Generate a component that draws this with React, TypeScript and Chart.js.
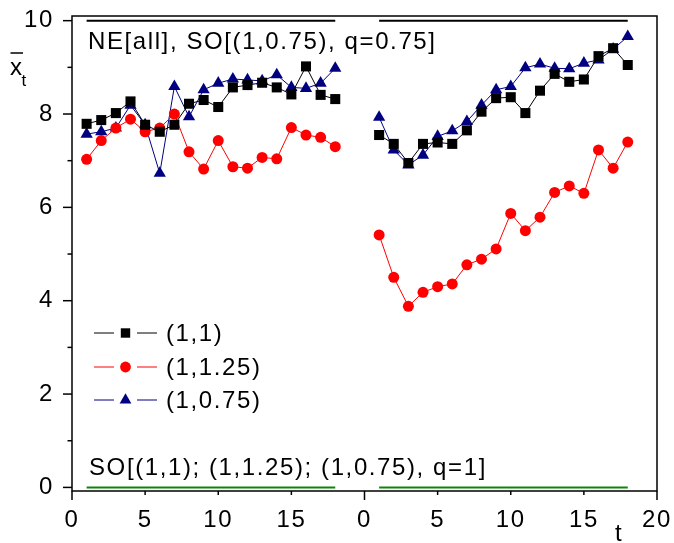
import { useEffect, useRef } from 'react';
import { Chart, registerables } from 'chart.js';

Chart.register(...registerables);

// ---- data ----
const tValues = [1, 2, 3, 4, 5, 6, 7, 8, 9, 10, 11, 12, 13, 14, 15, 16, 17, 18];
const rightPanelOffset = 20;

const blackLeft = [7.79, 7.87, 8.02, 8.27, 7.77, 7.62, 7.77, 8.22, 8.30, 8.15, 8.57, 8.62, 8.67, 8.57, 8.42, 9.02, 8.41, 8.32];
const redLeft = [7.03, 7.43, 7.70, 7.89, 7.62, 7.70, 8.00, 7.19, 6.82, 7.43, 6.87, 6.84, 7.07, 7.04, 7.71, 7.55, 7.50, 7.30];
const blueLeft = [7.57, 7.62, 7.70, 8.19, 7.77, 6.73, 8.59, 7.94, 8.52, 8.66, 8.75, 8.73, 8.71, 8.84, 8.57, 8.55, 8.66, 8.98];

const blackRight = [7.55, 7.36, 6.95, 7.36, 7.39, 7.36, 7.65, 8.05, 8.34, 8.36, 8.02, 8.50, 8.86, 8.69, 8.74, 9.24, 9.41, 9.05];
const redRight = [5.41, 4.50, 3.88, 4.18, 4.30, 4.36, 4.77, 4.89, 5.11, 5.87, 5.50, 5.79, 6.32, 6.46, 6.30, 7.23, 6.84, 7.40];
const blueRight = [7.93, 7.23, 6.91, 7.12, 7.52, 7.64, 7.84, 8.19, 8.52, 8.59, 8.99, 9.07, 8.98, 8.97, 9.09, 9.16, 9.39, 9.66];

const neLine = [10, 10, 10, 10, 10, 10, 10, 10, 10, 10, 10, 10, 10, 10, 10, 10, 10, 10];
const soLine = [0, 0, 0, 0, 0, 0, 0, 0, 0, 0, 0, 0, 0, 0, 0, 0, 0, 0];

const xTickValues = [0, 5, 10, 15, 20, 25, 30, 35, 40];
const xTickLabels = ['0', '5', '10', '15', '0', '5', '10', '15', '20'];
const yTickValues = [0, 1, 2, 3, 4, 5, 6, 7, 8, 9, 10];
const yTickLabels = ['0', '', '2', '', '4', '', '6', '', '8', '', '10'];

const legendLabels = ['(1,1)', '(1,1.25)', '(1,0.75)'];
const topNote = 'NE[all], SO[(1,0.75), q=0.75]';
const bottomNote = 'SO[(1,1); (1,1.25); (1,0.75), q=1]';
const xAxisTitle = 't';

// ---- styles ----
const FONT = '"Liberation Sans", Arial, sans-serif';
const SPACING = '1.6px';
const BLACK = '#000000';
const RED = '#ff0000';
const NAVY = '#000080';
const GREEN = '#0a870a';

function pts(values: number[], offset: number) {
  return tValues.map((t, i) => ({ x: t + offset, y: values[i] }));
}

function series(values: number[], offset: number, color: string, style: string, radius: number) {
  return {
    data: pts(values, offset),
    borderColor: color,
    backgroundColor: color,
    borderWidth: 1,
    pointStyle: style,
    pointRadius: radius,
    pointBorderWidth: 0,
    pointBackgroundColor: color,
    pointHoverRadius: radius,
  };
}

function flat(values: number[], offset: number, color: string) {
  return {
    data: pts(values, offset),
    borderColor: color,
    backgroundColor: color,
    borderWidth: 2,
    pointRadius: 0,
    pointHoverRadius: 0,
  };
}

function drawMarker(ctx: CanvasRenderingContext2D, kind: string, cx: number, cy: number, color: string) {
  ctx.fillStyle = color;
  ctx.beginPath();
  if (kind === 'rect') {
    ctx.rect(cx - 4.7, cy - 4.7, 9.4, 9.4);
  } else if (kind === 'circle') {
    ctx.arc(cx, cy, 5.4, 0, Math.PI * 2);
  } else {
    const r = 6.8;
    ctx.moveTo(cx, cy - r);
    ctx.lineTo(cx + r * 0.866, cy + r / 2);
    ctx.lineTo(cx - r * 0.866, cy + r / 2);
    ctx.closePath();
  }
  ctx.fill();
}

const decor = {
  id: 'decor',
  beforeLayout(chart: any) {
    chart.ctx.letterSpacing = SPACING;
  },
  beforeDraw(chart: any) {
    chart.ctx.letterSpacing = SPACING;
  },
  afterDraw(chart: any) {
    const ctx: CanvasRenderingContext2D = chart.ctx;
    const { left, right, top, bottom } = chart.chartArea;
    const xs = chart.scales.x;
    const ys = chart.scales.y;
    ctx.save();
    (ctx as any).letterSpacing = SPACING;
    ctx.strokeStyle = BLACK;
    ctx.lineWidth = 1.5;
    ctx.strokeRect(left, top, right - left, bottom - top);

    const seg = (x1: number, y1: number, x2: number, y2: number) => {
      ctx.beginPath();
      ctx.moveTo(x1, y1);
      ctx.lineTo(x2, y2);
      ctx.stroke();
    };
    yTickValues.forEach((v, i) => {
      const py = ys.getPixelForValue(v);
      const len = yTickLabels[i] ? 9 : 4.5;
      seg(left - len, py, left, py);
    });
    xTickValues.forEach((v) => {
      const px = xs.getPixelForValue(v);
      const len = v % 20 === 0 ? 9 : 4;
      seg(px, bottom, px, bottom + len);
    });

    ctx.fillStyle = BLACK;
    ctx.textBaseline = 'alphabetic';
    ctx.textAlign = 'left';
    ctx.font = `24px ${FONT}`;
    ctx.fillText(topNote, 88, 48.5);
    ctx.fillText(bottomNote, 89, 475);
    ctx.fillText(xAxisTitle, 615, 541);

    // y-axis title: x with overline, subscript t
    ctx.fillText('x', 10, 75);
    ctx.lineWidth = 1.5;
    seg(10.5, 53, 23, 53);
    ctx.font = `17px ${FONT}`;
    ctx.fillText('t', 21.5, 86);

    // legend
    const rows = [
      { y: 333, color: BLACK, kind: 'rect' },
      { y: 367, color: RED, kind: 'circle' },
      { y: 400, color: NAVY, kind: 'triangle' },
    ];
    rows.forEach((r, i) => {
      ctx.strokeStyle = r.color;
      ctx.lineWidth = 1;
      seg(94, r.y, 114, r.y);
      seg(137, r.y, 157, r.y);
      drawMarker(ctx, r.kind, 125.5, r.y, r.color);
      ctx.fillStyle = BLACK;
      ctx.font = `24px ${FONT}`;
      ctx.fillText(legendLabels[i], 166, r.y + 7.5);
    });
    ctx.restore();
  },
};

export default function App() {
  const ref = useRef<HTMLCanvasElement>(null);
  useEffect(() => {
    const canvas = ref.current;
    if (!canvas) return;
    const chart = new Chart(canvas, {
      type: 'line',
      data: {
        datasets: [
          flat(neLine, 0, BLACK),
          flat(neLine, rightPanelOffset, BLACK),
          flat(soLine, 0, GREEN),
          flat(soLine, rightPanelOffset, GREEN),
          series(blackLeft, 0, BLACK, 'rect', 7.1),
          series(blackRight, rightPanelOffset, BLACK, 'rect', 7.1),
          series(redLeft, 0, RED, 'circle', 5.5),
          series(redRight, rightPanelOffset, RED, 'circle', 5.5),
          series(blueLeft, 0, NAVY, 'triangle', 7.1),
          series(blueRight, rightPanelOffset, NAVY, 'triangle', 7.1),
        ] as any,
      },
      options: {
        animation: false,
        responsive: false,
        devicePixelRatio: 1,
        events: [],
        layout: { padding: { top: 16, right: 17, left: 0, bottom: 0 } },
        elements: { line: { tension: 0 } },
        plugins: { legend: { display: false }, tooltip: { enabled: false } },
        scales: {
          x: {
            type: 'linear',
            min: 0,
            max: 40,
            afterBuildTicks: (s: any) => {
              s.ticks = xTickValues.map((v) => ({ value: v }));
            },
            afterFit: (s: any) => {
              s.height = 52;
              s.paddingLeft = 0;
              s.paddingRight = 0;
              s.paddingTop = 0;
              s.paddingBottom = 0;
            },
            grid: { display: false, drawTicks: false },
            border: { display: false },
            ticks: {
              autoSkip: false,
              maxRotation: 0,
              padding: 15,
              color: BLACK,
              font: { family: FONT, size: 24 },
              callback: (v: any) => xTickLabels[xTickValues.indexOf(Number(v))] ?? '',
            },
          },
          y: {
            type: 'linear',
            min: -0.077,
            max: 10.1,
            afterBuildTicks: (s: any) => {
              s.ticks = yTickValues.map((v) => ({ value: v }));
            },
            afterFit: (s: any) => {
              s.width = 72;
              s.paddingLeft = 0;
              s.paddingRight = 0;
              s.paddingTop = 0;
              s.paddingBottom = 0;
            },
            grid: { display: false, drawTicks: false },
            border: { display: false },
            ticks: {
              autoSkip: false,
              padding: 18,
              color: BLACK,
              font: { family: FONT, size: 24 },
              callback: (v: any) => yTickLabels[yTickValues.indexOf(Number(v))] ?? '',
            },
          },
        },
      } as any,
      plugins: [decor],
    });
    return () => chart.destroy();
  }, []);
  return (
    <div style={{ position: 'absolute', left: 0, top: 0, width: 674, height: 543, background: '#fff' }}>
      <canvas ref={ref} width={674} height={543} style={{ display: 'block' }} />
    </div>
  );
}
